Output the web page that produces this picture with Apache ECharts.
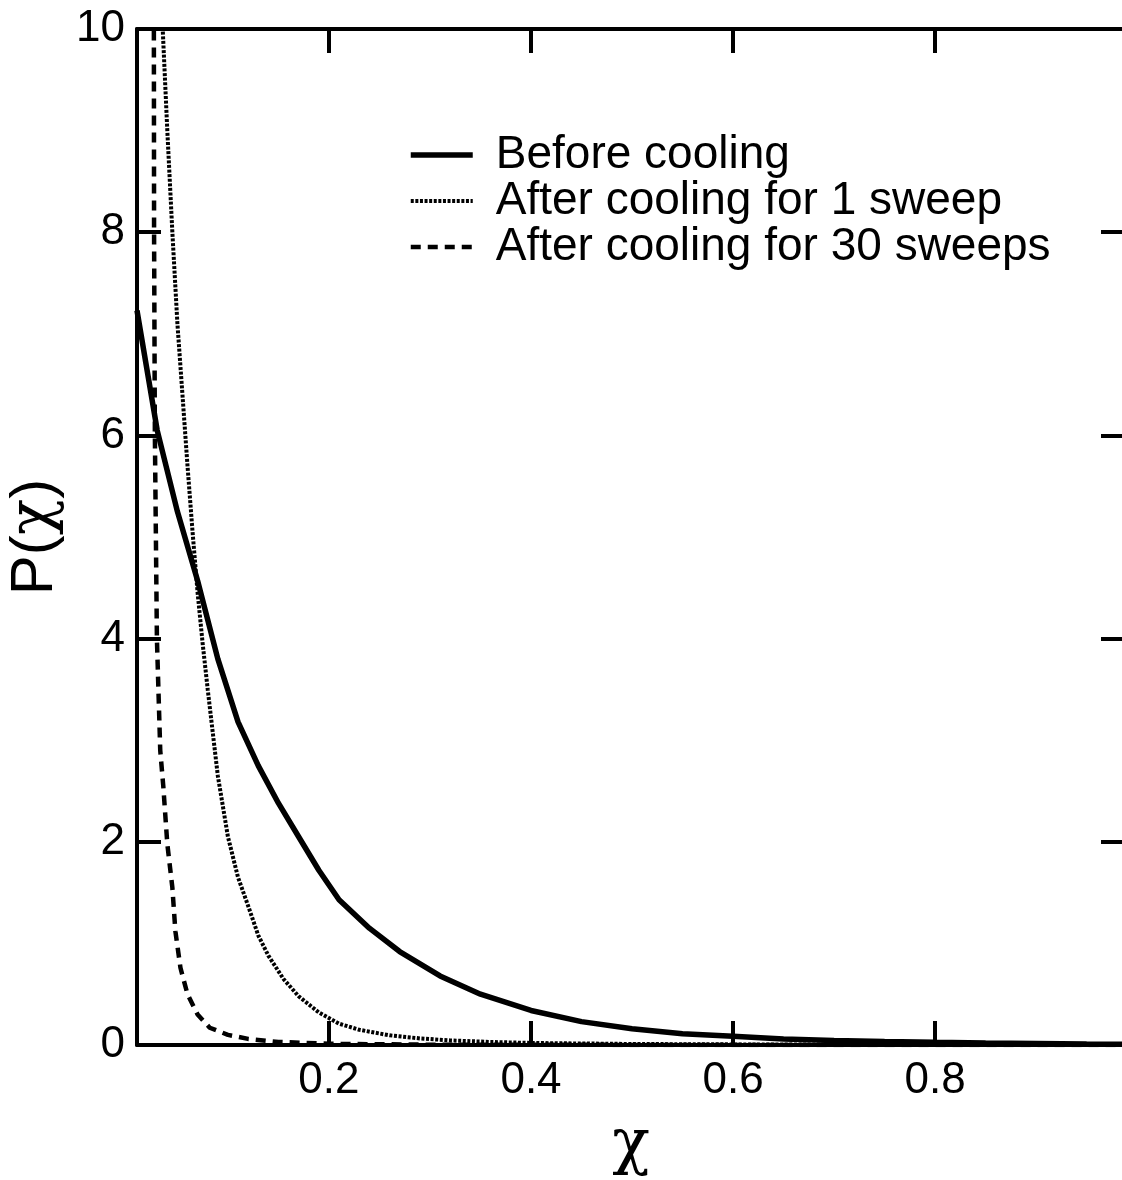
<!DOCTYPE html>
<html>
<head>
<meta charset="utf-8">
<script src="https://cdn.jsdelivr.net/npm/echarts@6/dist/echarts.min.js"></script>
<style>
html,body{margin:0;padding:0;background:#fff;}
#chart{width:1122px;height:1180px;}
</style>
</head>
<body>
<div id="chart"></div>
<script>
// ---- data ----
const seriesNames = ['Before cooling', 'After cooling for 1 sweep', 'After cooling for 30 sweeps'];

const xBefore = [0.01, 0.03, 0.05, 0.07, 0.09, 0.11, 0.13, 0.15, 0.17, 0.19, 0.21, 0.24, 0.27, 0.31, 0.35, 0.40, 0.45, 0.50, 0.55, 0.60, 0.65, 0.70, 0.75, 0.80, 0.85, 0.90, 0.95, 0.99];
const yBefore = [7.23, 6.05, 5.25, 4.57, 3.8, 3.18, 2.75, 2.38, 2.05, 1.72, 1.43, 1.15, 0.92, 0.68, 0.50, 0.34, 0.23, 0.16, 0.11, 0.085, 0.06, 0.045, 0.035, 0.027, 0.02, 0.015, 0.01, 0.008];

const xSweep1 = [0.02, 0.03, 0.035, 0.04, 0.045, 0.05, 0.055, 0.06, 0.065, 0.07, 0.075, 0.08, 0.09, 0.10, 0.11, 0.12, 0.13, 0.14, 0.155, 0.17, 0.19, 0.21, 0.23, 0.26, 0.29, 0.32, 0.36, 0.40, 0.50, 0.60, 0.80, 0.99];
const ySweep1 = [14, 11.4, 10.1, 9.0, 8.0, 7.1, 6.4, 5.7, 5.05, 4.45, 3.95, 3.5, 2.65, 2.05, 1.65, 1.37, 1.08, 0.88, 0.65, 0.48, 0.32, 0.21, 0.15, 0.095, 0.065, 0.045, 0.03, 0.02, 0.01, 0.006, 0.003, 0.001];

const xSweep30 = [0.026, 0.0267, 0.0269, 0.0277, 0.0297, 0.033, 0.036, 0.04, 0.045, 0.048, 0.053, 0.06, 0.07, 0.082, 0.10, 0.12, 0.15, 0.20, 0.30, 0.50, 0.99];
const ySweep30 = [14, 10, 8.0, 6.0, 4.0, 2.9, 2.55, 1.98, 1.55, 1.12, 0.76, 0.5, 0.3, 0.17, 0.1, 0.06, 0.03, 0.012, 0.003, 0.001, 0];

const xTickValues = [0.2, 0.4, 0.6, 0.8];
const yTickValues = [0, 2, 4, 6, 8, 10];

// ---- chart ----
function pairs(xs, ys) { return xs.map((x, i) => [x, ys[i]]); }

const FONT = 'Liberation Sans';
const CHI_FONT = 'DejaVu Serif';
const chart = echarts.init(document.getElementById('chart'));

const axisLineStyle = { color: '#000', width: 4 };
const tickStyle = { color: '#000', width: 4 };
const lineStyles = [
  { color: '#000', width: 5.5, type: 'solid' },
  { color: '#000', width: 4, type: [3, 1.6] },
  { color: '#000', width: 4.5, type: [10, 7] }
];

chart.setOption({
  animation: false,
  backgroundColor: '#fff',
  grid: { left: 137, right: -3, top: 29, bottom: 135, containLabel: false, outerBoundsMode: 'none' },
  legend: {
    data: seriesNames.map((n, i) => ({ name: n, lineStyle: lineStyles[i], itemStyle: { opacity: 0 } })),
    orient: 'vertical',
    left: 408,
    top: 132,
    padding: 0,
    itemGap: 0,
    itemWidth: 62,
    itemHeight: 14,
    itemStyle: { opacity: 0 },
    textStyle: { fontFamily: FONT, fontSize: 46, lineHeight: 46, color: '#000', padding: [0, 0, 0, 18] }
  },
  xAxis: [
    {
      type: 'value', position: 'bottom', min: 0.01, max: 0.988,
      axisLine: { show: true, onZero: false, lineStyle: axisLineStyle },
      axisTick: { show: true, inside: true, length: 24, lineStyle: tickStyle, customValues: xTickValues },
      axisLabel: { show: true, customValues: xTickValues, fontFamily: FONT, fontSize: 44, color: '#000', margin: 14,
        formatter: v => v.toFixed(1) },
      splitLine: { show: false },
      name: '{c|χ}', nameLocation: 'middle', nameGap: 70,
      nameTextStyle: { rich: { c: { fontFamily: CHI_FONT, fontSize: 62, color: '#000' } } }
    },
    {
      type: 'value', position: 'top', min: 0.01, max: 0.988,
      axisLine: { show: true, onZero: false, lineStyle: axisLineStyle },
      axisTick: { show: true, inside: true, length: 24, lineStyle: tickStyle, customValues: xTickValues },
      axisLabel: { show: false },
      splitLine: { show: false }
    }
  ],
  yAxis: [
    {
      type: 'value', position: 'left', min: 0, max: 10, interval: 2,
      axisLine: { show: true, onZero: false, lineStyle: axisLineStyle },
      axisTick: { show: true, inside: true, length: 24, lineStyle: tickStyle },
      axisLabel: { show: true, fontFamily: FONT, fontSize: 44, color: '#000', margin: 12 },
      splitLine: { show: false },
      name: '{a|P(}{b|χ}{a|)}', nameLocation: 'middle', nameGap: 60,
      nameTextStyle: { rich: {
        a: { fontFamily: FONT, fontSize: 60, color: '#000' },
        b: { fontFamily: CHI_FONT, fontSize: 60, color: '#000' }
      } }
    },
    {
      type: 'value', position: 'right', min: 0, max: 10, interval: 2,
      axisLine: { show: true, onZero: false, lineStyle: axisLineStyle },
      axisTick: { show: true, inside: true, length: 24, lineStyle: tickStyle },
      axisLabel: { show: false },
      splitLine: { show: false }
    }
  ],
  series: seriesNames.map((n, i) => ({
    name: n, type: 'line', xAxisIndex: 0, yAxisIndex: 0,
    data: [pairs(xBefore, yBefore), pairs(xSweep1, ySweep1), pairs(xSweep30, ySweep30)][i],
    symbol: 'none', clip: true,
    lineStyle: lineStyles[i], itemStyle: { color: '#000' }
  }))
});
</script>
</body>
</html>
